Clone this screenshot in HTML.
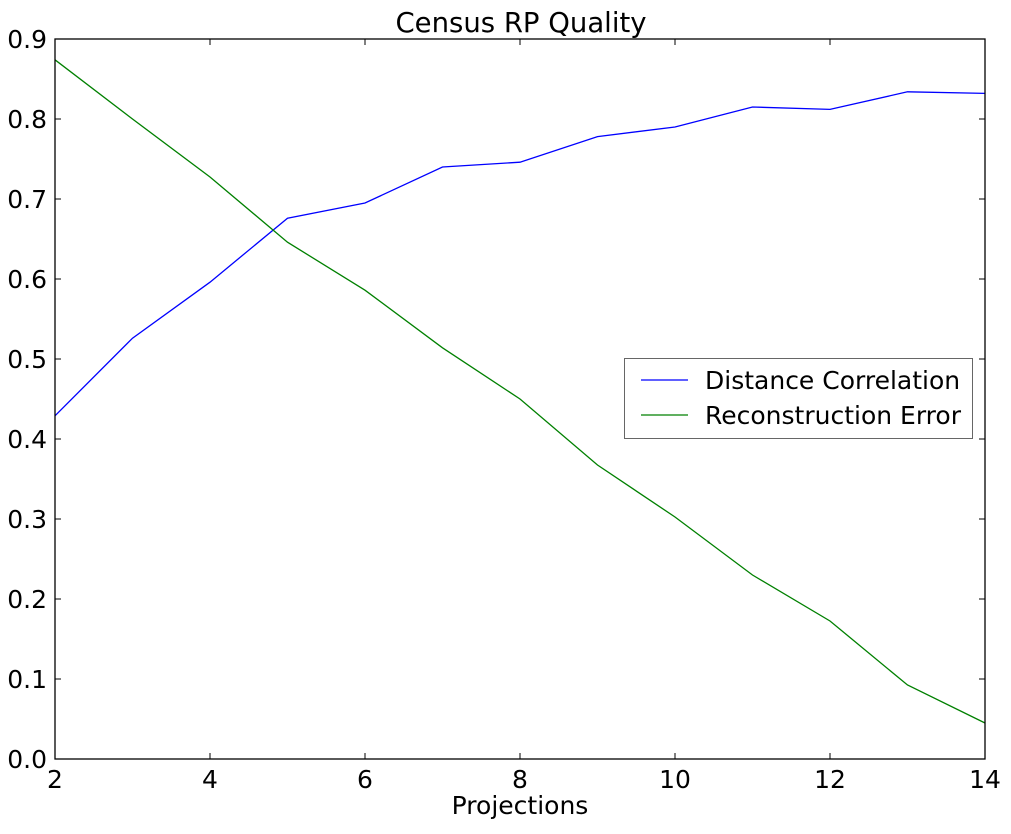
<!DOCTYPE html>
<html><head><meta charset="utf-8"><style>
body{margin:0;background:#fff;}
svg text{font-family:"DejaVu Sans","Liberation Sans",sans-serif;fill:#000;}
</style></head><body>
<svg id="chart" width="1011" height="829" xmlns="http://www.w3.org/2000/svg">
<rect width="1011" height="829" fill="#fff"/>
<g id="plot"></g>
</svg>
<script>
const xs = [2,3,4,5,6,7,8,9,10,11,12,13,14];
const distCorr = [0.429,0.526,0.596,0.676,0.695,0.740,0.746,0.778,0.790,0.815,0.812,0.834,0.832];
const reconErr = [0.874,0.800,0.7275,0.646,0.586,0.514,0.450,0.3675,0.3025,0.230,0.1725,0.0925,0.045];
const xTicks = [2,4,6,8,10,12,14];
const yTicks = [0.0,0.1,0.2,0.3,0.4,0.5,0.6,0.7,0.8,0.9];

const L=55,R=985,T=39,B=759;
const X=v=>L+(v-2)/(14-2)*(R-L);
const Y=v=>B-v/0.9*(B-T);
const NS="http://www.w3.org/2000/svg";
const g=document.getElementById('plot');
function mk(tag,attrs,parent){const e=document.createElementNS(NS,tag);for(const k in attrs)e.setAttribute(k,attrs[k]);(parent||g).appendChild(e);return e;}

xTicks.forEach(t=>{
  const x=X(t);
  const a=mk('line',{x1:x,x2:x,y1:B,y2:B-6,stroke:'#000'});
  
  
  mk('line',{x1:x,x2:x,y1:T,y2:T+6,stroke:'#000'});
  const tx=mk('text',{x:x,y:B+29,'text-anchor':'middle','font-size':25});
  tx.textContent=t;
  
  
});
yTicks.forEach(t=>{
  const y=Y(t);
  const a=mk('line',{x1:L,x2:L+6,y1:y,y2:y,stroke:'#000'});
  
  
  mk('line',{x1:R,x2:R-6,y1:y,y2:y,stroke:'#000'});
  const tx=mk('text',{x:L-8,y:y+9,'text-anchor':'end','font-size':25});
  tx.textContent=t.toFixed(1);
  
  
});

function series(vals,color,name){
  const p=mk('polyline',{points:vals.map((v,i)=>X(xs[i])+','+Y(v)).join(' '),fill:'none',stroke:color,'stroke-width':1.3});
  
  
}
series(distCorr,'#0000ff','distance-correlation-line');
series(reconErr,'#008000','reconstruction-error-line');

const frame=mk('rect',{x:L,y:T,width:R-L,height:B-T,fill:'none',stroke:'#000','stroke-width':1.3});



const title=mk('text',{x:521,y:32,'text-anchor':'middle','font-size':27.5});
title.textContent='Census RP Quality';


const xl=mk('text',{x:520,y:814,'text-anchor':'middle','font-size':25});
xl.textContent='Projections';



const lg=mk('g',{});


mk('rect',{x:624.5,y:358.5,width:348,height:80,fill:'#fff',stroke:'#666','stroke-width':1},lg);
[['Distance Correlation','#0000ff',380],['Reconstruction Error','#008000',415]].forEach(([n,c,y])=>{
  const e=mk('g',{},lg);
  
  
  mk('line',{x1:641,x2:688,y1:y,y2:y,stroke:c,'stroke-width':1.3},e);
  const t=mk('text',{x:705,y:y+9,'font-size':25},e);t.textContent=n;
});
</script>
</body></html>
